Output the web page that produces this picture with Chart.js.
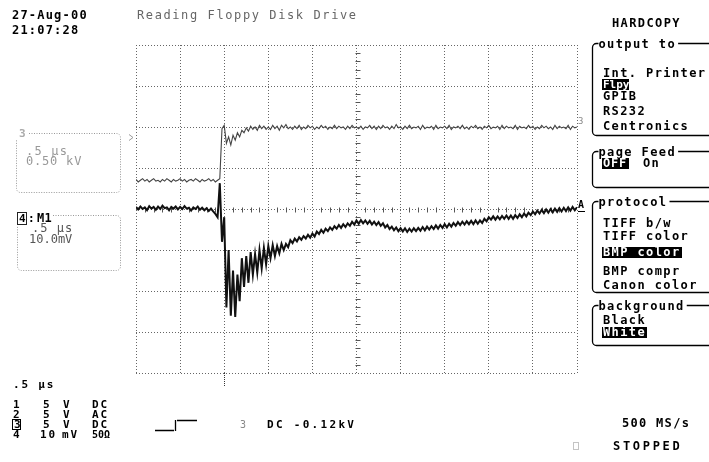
<!DOCTYPE html>
<html>
<head>
<meta charset="utf-8">
<script src="https://cdn.jsdelivr.net/npm/chart.js@4"></script>
<style>
  html, body { margin: 0; padding: 0; background: #fff; }
  canvas { display: block; }
</style>
</head>
<body>
<canvas id="scope" width="709" height="462"></canvas>
<script>
// Acquisition record: 201 samples, 0.025 µs apart, trigger at t = 0
const sampleStart = -2.5;   // µs
const sampleStep = 0.025;   // µs

// Memory M1 (channel 4, 10.0 mV/div), mV
const m1Values = [
  0.5, -0.1, 0.6, 0.0, 0.4, -0.3, 0.7, 0.1, 0.5, -0.2,
  0.6, 0.0, 0.8, 0.2, 0.4, -0.3, 0.5, 0.1, 0.6, -0.1,
  0.5, 0.0, 0.7, 0.1, 0.3, -0.4, 0.4, 0.0, 0.6, -0.2,
  0.3, -0.3, 0.2, -0.5, 0.1, -0.6, -1.2, -2.0, 6.3, -8.0,
  -2.0, -24.0, -10.0, -26.0, -15.0, -26.3, -16.0, -22.5, -12.0, -19.0,
  -11.5, -18.0, -10.5, -16.0, -11.0, -15.5, -10.0, -14.5, -9.5, -13.5,
  -9.0, -12.0, -8.8, -11.5, -9.0, -10.8, -8.5, -10.0, -8.5, -9.3,
  -7.6, -8.3, -7.2, -7.9, -6.9, -7.5, -6.6, -7.2, -6.3, -7.0,
  -6.0, -6.7, -5.5, -6.1, -5.1, -5.8, -4.8, -5.4, -4.5, -5.1,
  -4.2, -4.8, -3.9, -4.6, -3.7, -4.4, -3.5, -4.1, -3.1, -3.8,
  -2.8, -3.6, -2.7, -3.5, -2.8, -3.6, -2.9, -3.8, -3.1, -3.9,
  -3.2, -4.1, -3.5, -4.5, -3.9, -4.9, -4.3, -5.2, -4.5, -5.4,
  -4.7, -5.5, -4.7, -5.6, -4.8, -5.5, -4.7, -5.4, -4.6, -5.3,
  -4.4, -5.2, -4.3, -5.0, -4.2, -4.9, -4.0, -4.8, -3.9, -4.6,
  -3.7, -4.5, -3.6, -4.3, -3.4, -4.1, -3.2, -3.9, -3.1, -3.8,
  -3.0, -3.7, -2.9, -3.7, -2.8, -3.6, -2.8, -3.4, -2.4, -3.0,
  -2.0, -2.6, -1.8, -2.6, -1.8, -2.5, -1.7, -2.4, -1.6, -2.4,
  -1.6, -2.4, -1.5, -2.2, -1.3, -2.0, -1.1, -1.8, -0.9, -1.5,
  -0.6, -1.3, -0.4, -1.1, -0.2, -1.0, -0.1, -0.9, 0.0, -0.8,
  0.1, -0.7, 0.2, -0.6, 0.3, -0.5, 0.4, -0.4, 0.5, -0.3,
  0.4
];

// Channel 3 (0.50 kV/div), kV
const ch3Values = [
  0.36, 0.33, 0.35, 0.37, 0.34, 0.36, 0.33, 0.35, 0.37, 0.34,
  0.35, 0.33, 0.36, 0.34, 0.37, 0.35, 0.33, 0.36, 0.34, 0.35,
  0.37, 0.34, 0.36, 0.33, 0.35, 0.36, 0.34, 0.37, 0.35, 0.33,
  0.36, 0.34, 0.35, 0.37, 0.34, 0.36, 0.33, 0.35, 0.37, 0.98,
  1.02, 0.80, 0.88, 0.78, 0.90, 0.84, 0.93, 0.88, 0.96, 0.93,
  0.99, 0.95, 1.01, 0.97, 1.00, 0.96, 1.02, 0.98, 1.01, 0.97,
  1.00, 0.97, 1.02, 0.98, 1.01, 0.96, 1.02, 0.99, 1.03, 0.98,
  1.00, 0.97, 1.01, 0.98, 1.02, 0.97, 1.00, 0.98, 1.02, 0.99,
  1.01, 0.97, 1.00, 0.98, 1.02, 0.99, 1.01, 0.97, 1.00, 0.98,
  1.02, 0.98, 1.01, 0.99, 1.00, 0.97, 1.01, 0.98, 1.02, 0.99,
  1.00, 0.98, 1.01, 0.97, 1.00, 0.99, 1.02, 0.98, 1.01, 0.97,
  1.01, 0.98, 1.02, 0.99, 1.00, 0.97, 1.01, 0.98, 1.03, 0.99,
  1.00, 0.97, 1.01, 0.98, 1.02, 0.98, 1.00, 0.99, 1.01, 0.97,
  1.02, 0.98, 1.00, 0.99, 1.01, 0.97, 1.02, 0.98, 1.00, 0.99,
  1.01, 0.98, 1.02, 0.97, 1.00, 0.99, 1.01, 0.98, 1.02, 0.98,
  1.00, 0.97, 1.01, 0.99, 1.02, 0.98, 1.00, 0.97, 1.01, 0.99,
  1.02, 0.98, 1.00, 0.99, 1.01, 0.97, 1.02, 0.98, 1.01, 0.99,
  1.00, 0.98, 1.02, 0.97, 1.01, 0.99, 1.00, 0.98, 1.02, 0.99,
  1.01, 0.97, 1.00, 0.98, 1.02, 0.99, 1.01, 0.98, 1.00, 0.97,
  1.02, 0.98, 1.01, 0.99, 1.00, 0.98, 1.02, 0.97, 1.01, 0.99,
  1.00
];

// Graticule: 10 horizontal divisions of 0.5 µs, 8 vertical divisions
const timeTicks = [-2.5, -2, -1.5, -1, -0.5, 0, 0.5, 1, 1.5, 2, 2.5];
const m1Range = [-40, 40];   // mV (10.0 mV/div)
const ch3Range = [-2, 2];    // kV (0.50 kV/div)
const triggerTime = -1.5;    // µs, trigger marker under the graticule

const times = m1Values.map((_, i) => +(sampleStart + i * sampleStep).toFixed(3));
const toPoints = vals => vals.map((v, i) => ({ x: times[i], y: v }));

const FONT = '"DejaVu Sans Mono", "Liberation Mono", monospace';

function text(ctx, s, x, y, o = {}) {
  ctx.save();
  ctx.font = `${o.weight || 'bold'} ${o.size || 12}px ${FONT}`;
  if ('letterSpacing' in ctx) ctx.letterSpacing = (o.spacing ?? 1.4) + 'px';
  ctx.fillStyle = o.color || '#000';
  ctx.textAlign = 'left';
  ctx.textBaseline = 'alphabetic';
  ctx.fillText(s, x, y);
  const w = ctx.measureText(s).width;
  ctx.restore();
  return w;
}

function inverse(ctx, s, x, y, w, h, base, o = {}) {
  ctx.save();
  ctx.fillStyle = '#000';
  ctx.fillRect(x, y, w, h);
  ctx.restore();
  text(ctx, s, x + 1, base, Object.assign({ color: '#fff' }, o));
}

// Softkey menu box: title on top line, bracket on the left, line to the right edge
function menuBox(ctx, title, top, bottom) {
  const x0 = 592.5, r = 4, xr = 709;
  ctx.save();
  ctx.font = `bold 12px ${FONT}`;
  if ('letterSpacing' in ctx) ctx.letterSpacing = '1.4px';
  const tw = ctx.measureText(title).width;
  ctx.restore();
  const tx = x0 + r + 2;
  text(ctx, title, tx, top + 4);
  ctx.save();
  ctx.strokeStyle = '#000';
  ctx.lineWidth = 1.3;
  ctx.beginPath();
  ctx.moveTo(tx, top);
  ctx.lineTo(x0 + r, top);
  ctx.arcTo(x0, top, x0, top + r, r);
  ctx.lineTo(x0, bottom - r);
  ctx.arcTo(x0, bottom, x0 + r, bottom, r);
  ctx.lineTo(xr, bottom);
  ctx.moveTo(tx + tw + 2, top);
  ctx.lineTo(xr, top);
  ctx.stroke();
  ctx.restore();
}

function dottedRoundRect(ctx, x0, y0, x1, y1, r, color, gapStart, gapEnd) {
  ctx.save();
  ctx.strokeStyle = color;
  ctx.lineWidth = 1;
  ctx.setLineDash([1, 1.5]);
  ctx.beginPath();
  ctx.moveTo(gapEnd, y0);
  ctx.lineTo(x1 - r, y0);
  ctx.arcTo(x1, y0, x1, y0 + r, r);
  ctx.lineTo(x1, y1 - r);
  ctx.arcTo(x1, y1, x1 - r, y1, r);
  ctx.lineTo(x0 + r, y1);
  ctx.arcTo(x0, y1, x0, y1 - r, r);
  ctx.lineTo(x0, gapStart);
  ctx.stroke();
  ctx.restore();
}

const scopeDecor = {
  id: 'scopeDecor',
  beforeDatasetsDraw(chart) {
    const { ctx, scales: { x, y } } = chart;
    const cx = Math.round(x.getPixelForValue(0)) + 0.5;
    const cy = Math.round(y.getPixelForValue(0)) + 0.5;
    ctx.save();
    ctx.strokeStyle = '#555';
    ctx.lineWidth = 1;
    ctx.beginPath();
    // minor ticks on the centre lines (5 per division)
    for (let k = -25; k <= 25; k++) {
      if (k % 5 === 0) continue;
      const px = Math.round(x.getPixelForValue(k / 10)) + 0.5;
      ctx.moveTo(px, cy - 2); ctx.lineTo(px, cy + 3);
    }
    for (let k = -20; k <= 20; k++) {
      if (k % 5 === 0) continue;
      const py = Math.round(y.getPixelForValue(k * 2)) + 0.5;
      ctx.moveTo(cx - 2, py); ctx.lineTo(cx + 3, py);
    }
    ctx.stroke();
    // trigger position marker below the graticule
    const tx = Math.round(x.getPixelForValue(triggerTime)) + 0.5;
    ctx.setLineDash([1, 1]);
    ctx.strokeStyle = '#333';
    ctx.beginPath();
    ctx.moveTo(tx, chart.chartArea.bottom);
    ctx.lineTo(tx, chart.chartArea.bottom + 14);
    ctx.stroke();
    ctx.restore();
  },
  afterDraw(chart) {
    const { ctx } = chart;

    // header
    text(ctx, '27-Aug-00', 12, 19, { spacing: 1.2 });
    text(ctx, '21:07:28', 12, 34, { spacing: 1.2 });
    text(ctx, 'Reading Floppy Disk Drive', 137, 19, { weight: 'normal', color: '#666', spacing: 1.6 });

    // channel 3 readout box
    dottedRoundRect(ctx, 16.5, 133.5, 120.5, 192.5, 4, '#999', 140, 29);
    text(ctx, '3', 19, 137, { color: '#aaa', size: 11 });
    text(ctx, '.5 µs', 26, 155, { weight: 'normal', color: '#999', size: 12, spacing: 1.2 });
    text(ctx, '0.50 kV', 26, 165, { weight: 'normal', color: '#999', size: 12, spacing: 0.8 });
    // small pointer next to the box
    ctx.save();
    ctx.strokeStyle = '#999'; ctx.lineWidth = 1;
    ctx.beginPath(); ctx.moveTo(129, 134.5); ctx.lineTo(133, 137.5); ctx.lineTo(129, 140.5); ctx.stroke();
    ctx.restore();

    // memory M1 readout box
    dottedRoundRect(ctx, 17.5, 215.5, 120.5, 270.5, 4, '#999', 226, 53);
    ctx.save();
    ctx.strokeStyle = '#222'; ctx.lineWidth = 1;
    ctx.strokeRect(17.5, 212.5, 9, 12);
    ctx.restore();
    text(ctx, '4', 19, 222, { size: 11, spacing: 0 });
    text(ctx, ':', 28, 222, { size: 11, spacing: 0 });
    text(ctx, 'M1', 37, 222, { size: 12, spacing: 0.4 });
    text(ctx, '.5 µs', 32, 232, { weight: 'normal', color: '#555', size: 12, spacing: 1.0 });
    text(ctx, '10.0mV', 29, 243, { weight: 'normal', color: '#555', size: 12, spacing: 0 });

    // trace markers at the right edge
    text(ctx, '3', 578, 124, { weight: 'normal', color: '#888', size: 9, spacing: 0 });
    text(ctx, 'A', 578, 208, { size: 10, spacing: 0 });
    ctx.save();
    ctx.strokeStyle = '#000'; ctx.lineWidth = 1;
    ctx.beginPath(); ctx.moveTo(578, 211.5); ctx.lineTo(585, 211.5); ctx.stroke();
    ctx.restore();

    // timebase and channel setup
    const s = { size: 11, spacing: 1.8 };
    text(ctx, '.5 µs', 13, 388, s);
    text(ctx, '1', 13, 408, s); text(ctx, '5', 43, 408, s); text(ctx, 'V', 63, 408, s); text(ctx, 'DC', 92, 408, s);
    text(ctx, '2', 13, 418, s); text(ctx, '5', 43, 418, s); text(ctx, 'V', 63, 418, s); text(ctx, 'AC', 92, 418, s);
    ctx.save();
    ctx.strokeStyle = '#000'; ctx.lineWidth = 1;
    ctx.strokeRect(12.5, 419.5, 8, 10);
    ctx.restore();
    text(ctx, '3', 14, 428, s); text(ctx, '5', 43, 428, s); text(ctx, 'V', 63, 428, s); text(ctx, 'DC', 92, 428, s);
    text(ctx, '4', 13, 438, s); text(ctx, '10', 40, 438, s); text(ctx, 'mV', 62, 438, s); text(ctx, '50Ω', 92, 438, { size: 10, spacing: 0 });

    // trigger: rising edge on channel 3
    ctx.save();
    ctx.strokeStyle = '#000'; ctx.lineWidth = 1.3;
    ctx.beginPath();
    ctx.moveTo(155, 430.5); ctx.lineTo(174, 430.5);
    ctx.moveTo(175.5, 431); ctx.lineTo(175.5, 420);
    ctx.moveTo(177, 420.5); ctx.lineTo(197, 420.5);
    ctx.stroke();
    ctx.restore();
    text(ctx, '3', 240, 428, { weight: 'normal', size: 10, color: '#888', spacing: 0 });
    text(ctx, 'DC -0.12kV', 267, 428, { size: 11, spacing: 2.3 });

    // hardcopy menu
    text(ctx, 'HARDCOPY', 612, 27);
    menuBox(ctx, 'output to', 43.5, 135.5);
    text(ctx, 'Int. Printer', 603, 77);
    inverse(ctx, 'Flpy', 602, 79, 27, 11, 88, { size: 11, spacing: 0 });
    text(ctx, 'GPIB', 603, 100);
    text(ctx, 'RS232', 603, 115);
    text(ctx, 'Centronics', 603, 130);

    menuBox(ctx, 'page Feed', 151.5, 187.5);
    inverse(ctx, 'OFF', 602, 158, 27, 11, 167, { spacing: 0.8 });
    text(ctx, 'On', 643, 167);

    menuBox(ctx, 'protocol', 201.5, 292.5);
    text(ctx, 'TIFF b/w', 603, 227);
    text(ctx, 'TIFF color', 603, 240);
    inverse(ctx, 'BMP color', 602, 247, 80, 11, 256);
    text(ctx, 'BMP compr', 603, 275);
    text(ctx, 'Canon color', 603, 289);

    menuBox(ctx, 'background', 305.5, 345.5);
    text(ctx, 'Black', 603, 324);
    inverse(ctx, 'White', 602, 327, 45, 11, 336);

    text(ctx, '500 MS/s', 622, 427, { spacing: 1.3 });
    ctx.save();
    ctx.strokeStyle = '#888'; ctx.lineWidth = 1; ctx.setLineDash([1, 1]);
    ctx.strokeRect(573.5, 442.5, 5, 7);
    ctx.restore();
    text(ctx, 'STOPPED', 613, 450, { spacing: 2.7 });
  }
};

const gridOpts = { color: '#666', lineWidth: 1, drawTicks: false };

new Chart(document.getElementById('scope'), {
  type: 'line',
  data: {
    datasets: [
      {
        label: 'M1',
        data: toPoints(m1Values),
        yAxisID: 'y',
        borderColor: '#111',
        borderWidth: 2,
        pointRadius: 0,
        tension: 0
      },
      {
        label: '3',
        data: toPoints(ch3Values),
        yAxisID: 'y3',
        borderColor: '#444',
        borderWidth: 1.1,
        pointRadius: 0,
        tension: 0
      }
    ]
  },
  options: {
    responsive: false,
    animation: false,
    devicePixelRatio: 1,
    layout: { padding: { left: 136, right: 132, top: 45, bottom: 89 } },
    plugins: { legend: { display: false }, tooltip: { enabled: false } },
    scales: {
      x: {
        type: 'linear',
        min: timeTicks[0],
        max: timeTicks[timeTicks.length - 1],
        afterBuildTicks: axis => { axis.ticks = timeTicks.map(v => ({ value: v })); },
        ticks: { display: false },
        grid: gridOpts,
        border: { display: false, dash: [1, 2] }
      },
      y: {
        min: m1Range[0],
        max: m1Range[1],
        ticks: { display: false, stepSize: 10 },
        grid: gridOpts,
        border: { display: false, dash: [1, 2] }
      },
      y3: {
        display: false,
        min: ch3Range[0],
        max: ch3Range[1]
      }
    }
  },
  plugins: [scopeDecor]
});
</script>
</body>
</html>
